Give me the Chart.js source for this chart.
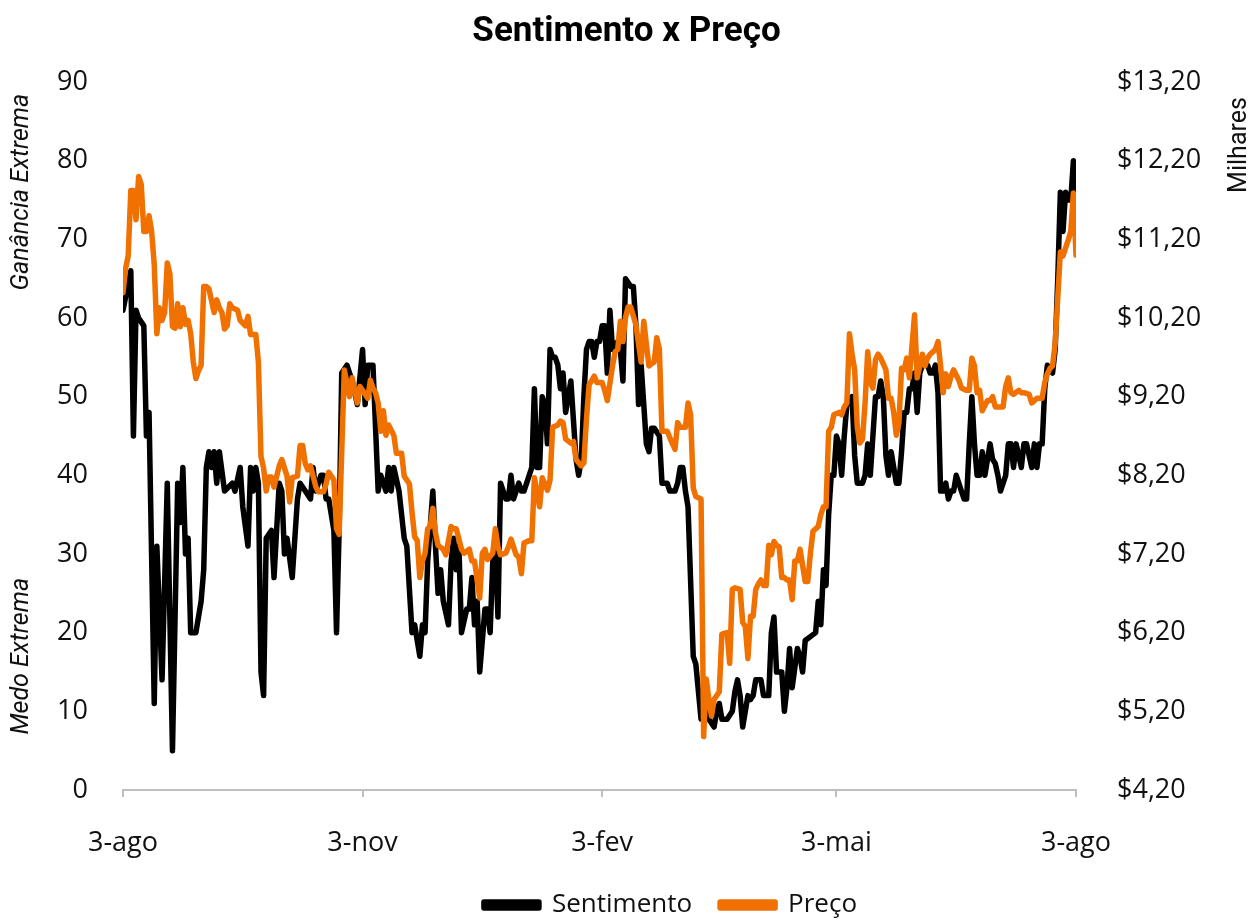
<!DOCTYPE html>
<html>
<head>
<meta charset="utf-8">
<script src="https://cdn.jsdelivr.net/npm/chart.js@4/dist/chart.umd.min.js"></script>
<style>
  html, body { margin: 0; padding: 0; background: #fff; }
  #wrap { width: 1253px; height: 920px; }
</style>
</head>
<body>
<div id="wrap"><canvas id="myChart" width="1253" height="920"></canvas></div>
<script>
// dias contados a partir de 3-ago
const diasSentimento = [0,3,4,5,6,8,9,10,12,13,15,17,19,21,22,23,24,25,26,28,30,31,32,33,34,35,36,37,39,42,43,45,46,48,49,50,51,52,53,54,55,57,58,60,61,62,63,65,67,68,70,72,73,74,76,77,78,79,81,82,83,84,86,88,90,92,93,94,96,98,99,101,102,103,104,106,108,109,111,112,114,115,116,117,119,120,121,122,123,125,126,127,128,129,130,132,133,134,135,136,137,139,140,141,142,143,144,145,147,148,149,150,152,153,154,156,157,158,159,160,161,162,163,164,165,166,167,168,169,170,172,173,174,175,176,177,178,179,180,181,182,183,184,185,186,187,188,190,191,192,193,195,196,197,198,199,200,201,202,203,204,206,207,209,210,212,213,214,215,216,217,219,220,222,223,224,225,227,228,229,230,232,234,235,236,237,238,240,241,242,243,245,246,248,249,250,251,253,254,255,256,257,259,260,261,262,264,266,267,268,269,270,271,272,273,274,275,276,277,278,280,281,282,284,285,286,287,289,290,291,292,293,294,295,296,297,298,299,300,301,302,303,304,305,306,307,308,309,310,311,312,313,314,315,316,317,318,319,320,322,323,324,325,326,327,328,329,330,331,332,333,334,335,336,337,339,340,341,342,343,345,346,347,349,350,351,352,353,354,355,357,358,359,360,361,362,363,364,365,366];
const sentimento = [61,66,45,61,60,59,45,48,11,31,14,39,5,39,34,41,30,32,20,20,24,28,41,43,41,43,39,43,38,39,38,41,36,31,41,38,41,39,15,12,32,33,27,39,38,30,32,27,37,39,38,37,41,38,40,40,37,37,33,20,33,53,54,52,49,56,49,54,54,38,40,38,41,38,41,38,32,31,20,21,17,21,20,29,38,31,25,28,24,21,29,32,28,31,20,23,23,27,21,24,15,23,23,20,29,31,22,39,37,37,40,37,39,38,38,40,41,51,41,41,50,49,44,56,55,55,54,51,53,48,52,47,42,40,42,50,56,57,57,55,57,57,59,59,53,61,56,57,56,52,65,64,64,59,49,54,49,44,43,46,46,45,39,39,38,38,39,41,41,38,36,17,16,9,9,11,9,8,10,11,9,9,10,12.5,14,12,8,12,11.5,12,14,14,12,12,20,22,15,15,10,13,18,13,18,17,15,19,19.5,20,24,21,28,26,35,40,40,45,44,40,45,49,50,42.5,39,39,40,44,40,50,50,52,50,42.5,40,43,41,39,39,43,48,48,51,51,53,48,53,54,54,54,53,53,54,50.5,38,38,39,37,38,38,40,38,37,37,44,50,44,40,40,43,40,42,44,42,41.5,40,38,40,44,44,41,44,41,44,44,41,44,41,44,44,51,54,53,56,65,76,71,76,75,75,80,75];

const diasPreco = [0,1,2,3,4,5,6,7,8,9,10,11,12,13,14,15,16,17,18,19,20,21,22,23,24,25,26,27,28,29,30,31,32,33,35,36,37,38,39,40,41,42,44,45,47,48,49,51,52,53,54,55,56,57,58,60,61,63,64,65,67,68,69,70,71,72,74,75,77,78,79,81,82,83,85,87,88,89,90,91,92,94,95,96,97,98,99,100,101,102,104,105,107,108,110,111,112,113,114,115,116,117,118,119,120,121,123,124,126,127,128,130,131,133,134,135,137,138,139,140,142,143,144,145,147,148,149,151,152,153,154,156,157,158,160,161,163,164,165,167,168,169,170,172,173,174,176,177,178,179,181,182,184,185,186,188,189,190,191,192,193,194,195,197,198,199,200,201,202,203,204,205,206,207,209,210,212,213,214,216,217,218,219,220,222,223,224,225,226,227,229,230,232,233,234,235,237,238,239,240,241,242,243,244,245,246,247,248,249,250,251,252,253,254,255,256,257,258,259,260,262,263,264,265,267,268,269,270,271,272,273,275,276,277,278,279,280,281,282,283,284,285,286,287,288,289,290,291,293,294,295,296,297,298,299,300,301,302,304,305,306,307,308,309,310,312,313,314,315,316,317,318,319,321,322,324,325,326,327,328,329,330,332,333,334,335,337,338,339,340,341,342,344,345,346,348,349,350,351,353,354,355,356,357,358,360,361,362,363,364,365,366];
// preço em milhares de dólares
const preco = [10.52,10.83,10.99,11.82,11.82,11.45,12.0,11.9,11.3,11.3,11.5,11.3,10.88,10.0,10.33,10.17,10.27,10.9,10.76,10.09,10.07,10.38,10.09,10.33,10.12,10.17,10.0,9.64,9.43,9.53,9.6,10.6,10.6,10.57,10.27,10.43,10.33,10.27,10.06,10.1,10.38,10.33,10.3,10.17,10.1,10.22,9.99,9.99,9.64,8.44,8.29,8.0,8.18,8.18,8.05,8.32,8.4,8.19,7.86,8.17,8.19,8.58,8.58,8.35,8.27,8.32,8.06,7.99,7.99,8.09,8.24,8.14,7.52,7.45,9.54,9.2,9.44,9.28,9.12,9.33,9.28,9.18,9.41,9.31,9.25,9.12,8.76,9.02,8.71,8.84,8.71,8.48,8.48,8.19,8.09,7.73,7.42,7.37,6.9,7.11,7.21,7.52,7.55,7.78,7.47,7.31,7.26,7.19,7.55,7.52,7.52,7.26,7.21,7.26,7.11,7.11,6.64,7.21,7.26,7.13,7.21,7.52,7.29,7.19,7.21,7.29,7.39,7.19,7.16,6.95,7.34,7.37,7.37,8.17,7.8,8.17,8.01,8.14,8.81,8.84,8.89,8.87,8.66,8.61,8.63,8.4,8.32,8.36,8.92,9.35,9.46,9.38,9.38,9.28,9.15,9.59,9.77,9.8,10.16,9.9,10.21,10.34,10.34,10.11,9.87,9.64,10.16,9.87,9.59,9.62,9.64,9.95,9.8,8.76,8.76,8.68,8.53,8.87,8.81,8.81,9.12,8.97,8.04,7.93,7.9,4.88,5.61,5.35,5.14,5.35,5.45,6.18,6.2,5.81,6.75,6.77,6.75,6.33,6.28,5.87,6.41,6.41,6.75,6.82,6.87,6.8,6.8,7.31,7.19,7.36,7.31,7.29,6.9,6.9,6.87,6.87,6.62,7.11,7.11,7.26,6.85,6.85,7.21,7.49,7.55,7.7,7.8,7.8,8.76,8.81,8.97,9.0,8.97,9.07,9.12,10.0,9.74,9.54,8.81,8.61,8.66,9.12,9.77,9.38,9.31,9.67,9.74,9.69,9.54,9.18,9.18,9.0,8.71,8.87,9.56,9.54,9.69,9.44,10.24,9.44,9.59,9.74,9.59,9.69,9.74,9.8,9.9,9.59,9.25,9.49,9.33,9.46,9.54,9.41,9.31,9.28,9.28,9.69,9.59,9.25,9.28,9.02,9.15,9.15,9.2,9.07,9.07,9.07,9.33,9.44,9.25,9.23,9.28,9.25,9.25,9.23,9.12,9.15,9.18,9.18,9.38,9.49,9.56,9.59,9.88,11.04,10.99,11.09,11.19,11.3,11.79,11.0];

const ticksX = [0, 92, 184, 274, 366];
const rotulosX = ['3-ago', '3-nov', '3-fev', '3-mai', '3-ago'];
const ticksPreco = [4.2, 5.2, 6.2, 7.2, 8.2, 9.2, 10.2, 11.2, 12.2, 13.2];

const pares = (xs, ys) => xs.map((x, i) => ({ x: x, y: ys[i] }));

const fonte = "'Open Sans', 'Noto Sans', sans-serif";
const cinza = '#bfbfbf';

// textos dos eixos (Ganância / Medo / Milhares)
const textosEixos = {
  id: 'textosEixos',
  afterDraw(chart) {
    const ctx = chart.ctx;
    const y = chart.scales.y;
    const area = chart.chartArea;
    const escrever = (txt, x, yc, estilo) => {
      ctx.save();
      ctx.translate(x, yc);
      ctx.rotate(-Math.PI / 2);
      ctx.font = estilo + " 25px 'Roboto', sans-serif";
      ctx.fillStyle = '#111';
      ctx.textAlign = 'center';
      ctx.textBaseline = 'middle';
      ctx.fillText(txt, 0, 0);
      ctx.restore();
    };
    escrever('Ganância Extrema', 22, y.getPixelForValue(76), 'italic');
    escrever('Medo Extrema', 22, y.getPixelForValue(17), 'italic');
    escrever('Milhares', 1240, area.top + 63, 'normal');
  }
};

// desloca a legenda como no original
const moverLegenda = {
  id: 'moverLegenda',
  afterLayout(chart) {
    chart.legend.left += 44;
    chart.legend.right += 44;
  }
};

const ctx = document.getElementById('myChart').getContext('2d');
var myChart = new Chart(ctx, {
  type: 'line',
  data: {
    datasets: [
      {
        label: 'Sentimento',
        data: pares(diasSentimento, sentimento),
        borderColor: '#000000',
        backgroundColor: '#000000',
        borderWidth: 5.5,
        pointRadius: 0,
        borderJoinStyle: 'round',
        borderCapStyle: 'round',
        yAxisID: 'y',
        order: 2,
      },
      {
        label: 'Preço',
        data: pares(diasPreco, preco),
        borderColor: '#f07000',
        backgroundColor: '#f07000',
        borderWidth: 5.5,
        pointRadius: 0,
        borderJoinStyle: 'round',
        borderCapStyle: 'round',
        yAxisID: 'y1',
        order: 1,
      },
    ],
  },
  options: {
    responsive: false,
    animation: false,
    layout: { padding: { left: 0, right: 0, top: 0, bottom: -8 } },
    plugins: {
      tooltip: { enabled: false },
      title: {
        display: true,
        text: 'Sentimento x Preço',
        color: '#000',
        font: { family: "'Roboto', sans-serif", size: 35, weight: 'bold', lineHeight: 1.2 },
        padding: { top: 11, bottom: 29 },
      },
      legend: {
        position: 'bottom',
        labels: {
          color: '#111',
          font: { family: fonte, size: 26 },
          boxWidth: 55,
          boxHeight: 6,
          padding: 28,
          sort: (a, b) => a.datasetIndex - b.datasetIndex,
        },
      },
    },
    scales: {
      x: {
        type: 'linear',
        min: 0,
        max: 366,
        afterBuildTicks: (s) => { s.ticks = ticksX.map(v => ({ value: v })); },
        afterFit: (s) => { s.height = 74; },
        ticks: {
          color: '#111',
          font: { family: fonte, size: 27 },
          padding: 30,
          maxRotation: 0,
          callback: (v) => rotulosX[ticksX.indexOf(v)],
        },
        grid: { drawOnChartArea: false, drawTicks: true, tickLength: 7, color: cinza, lineWidth: 2 },
        border: { display: true, color: cinza, width: 2 },
      },
      y: {
        position: 'left',
        min: 0,
        max: 90,
        afterFit: (s) => { s.width = 123; },
        ticks: { stepSize: 10, color: '#111', font: { family: fonte, size: 27 }, padding: 35 },
        grid: { display: false, drawTicks: false },
        border: { display: false },
      },
      y1: {
        position: 'right',
        min: 4.2,
        max: 13.2,
        afterBuildTicks: (s) => { s.ticks = ticksPreco.map(v => ({ value: v })); },
        afterFit: (s) => { s.width = 177; },
        ticks: {
          color: '#111',
          font: { family: fonte, size: 27 },
          padding: 41,
          callback: (v) => '$' + v.toFixed(2).replace('.', ','),
        },
        grid: { display: false, drawTicks: false },
        border: { display: false },
      },
    },
  },
  plugins: [textosEixos, moverLegenda],
});
</script>
</body>
</html>
